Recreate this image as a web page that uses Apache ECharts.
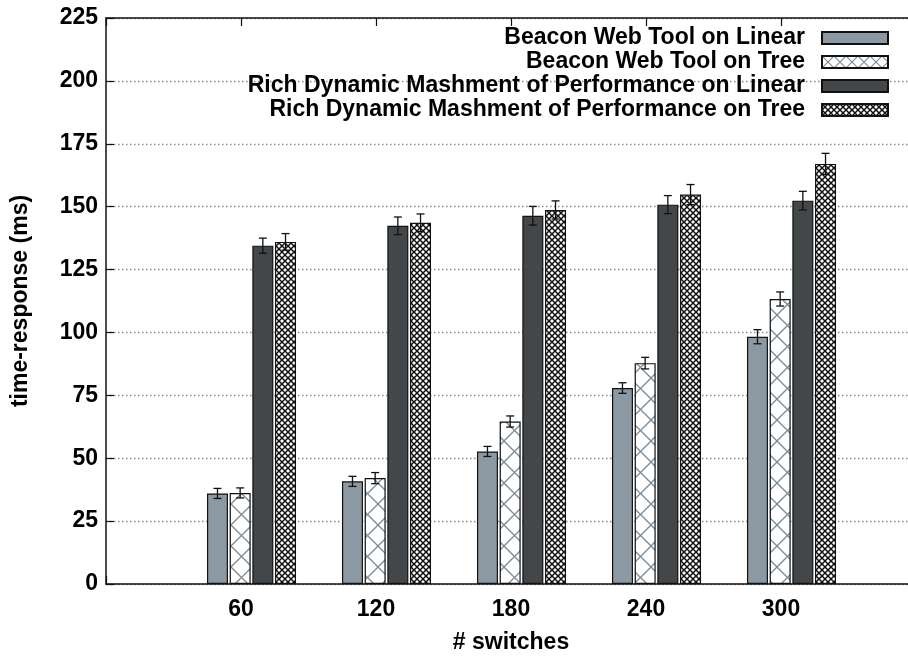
<!DOCTYPE html>
<html>
<head>
<meta charset="utf-8">
<script src="https://cdn.jsdelivr.net/npm/echarts@6/dist/echarts.min.js"></script>
<style>
  html, body { margin: 0; padding: 0; background: #fff; }
  #chart { width: 908px; height: 659px; }
</style>
</head>
<body>
<div id="chart"></div>
<script>
// Response time per number of switches, mean with error range (ms)
const switchCounts = ['60', '120', '180', '240', '300'];
const seriesNames = [
  'Beacon Web Tool on Linear',
  'Beacon Web Tool on Tree',
  'Rich Dynamic Mashment of Performance on Linear',
  'Rich Dynamic Mashment of Performance on Tree'
];
const beaconLinear    = [36.0, 40.8, 52.7, 77.9, 98.3];
const beaconLinearErr = [2.0, 2.0, 2.0, 2.1, 2.8];
const beaconTree      = [36.2, 42.1, 64.6, 87.8, 113.3];
const beaconTreeErr   = [2.0, 2.2, 2.2, 2.3, 2.8];
const richLinear      = [134.5, 142.4, 146.4, 150.8, 152.4];
const richLinearErr   = [3.0, 3.5, 3.7, 3.6, 3.7];
const richTree        = [136.0, 143.6, 148.7, 154.8, 167.0];
const richTreeErr     = [3.3, 3.5, 3.6, 4.0, 4.2];
const yTicks = { min: 0, max: 225, step: 25 };

const FONT = 'Liberation Sans';
const BAR_W = 21;
const BAR_GAP = 0.08;

// Hatch fills: diagonal cross lines on white
function crossHatch(period, color, width) {
  const c = document.createElement('canvas');
  c.width = period; c.height = period;
  const g = c.getContext('2d');
  g.fillStyle = '#fff';
  g.fillRect(0, 0, period, period);
  g.strokeStyle = color;
  g.lineWidth = width;
  for (const d of [-period, 0, period]) {
    g.beginPath(); g.moveTo(d, 0); g.lineTo(d + period, period); g.stroke();
    g.beginPath(); g.moveTo(d + period, 0); g.lineTo(d, period); g.stroke();
  }
  return { image: c, repeat: 'repeat' };
}
const wideHatch = crossHatch(21, '#7a8a97', 1.3);
const keyHatch = crossHatch(12, '#7a8a97', 1.1);
const fineHatch = crossHatch(6, '#111', 1.5);

const fills = ['#8c99a2', wideHatch, '#43474a', fineHatch];
const values = [beaconLinear, beaconTree, richLinear, richTree];
const errors = [beaconLinearErr, beaconTreeErr, richLinearErr, richTreeErr];

const barSeries = seriesNames.map((name, k) => ({
  name,
  type: 'bar',
  xAxisIndex: 2,
  yAxisIndex: 1,
  barWidth: BAR_W,
  barGap: (BAR_GAP * 100) + '%',
  itemStyle: { color: fills[k], borderColor: '#111', borderWidth: 1.2 },
  data: values[k],
  z: 2
}));

// Error bars drawn next to each bar through the category/value scales
const errData = [];
values.forEach((arr, k) => arr.forEach((v, i) => errData.push([i, k, v, errors[k][i]])));

const errSeries = {
  type: 'custom',
  xAxisIndex: 2,
  yAxisIndex: 1,
  encode: { x: 0, y: 2 },
  z: 5,
  silent: true,
  data: errData,
  renderItem(params, api) {
    const i = api.value(0), k = api.value(1), v = api.value(2), e = api.value(3);
    const pitch = BAR_W * (1 + BAR_GAP);
    const hi = api.coord([i, v + e]);
    const lo = api.coord([i, v - e]);
    const x = hi[0] + (k - 1.5) * pitch;
    const cap = 4;
    const st = { stroke: '#111', lineWidth: 1.3 };
    return {
      type: 'group',
      children: [
        { type: 'line', shape: { x1: x, y1: hi[1], x2: x, y2: lo[1] }, style: st },
        { type: 'line', shape: { x1: x - cap, y1: hi[1], x2: x + cap, y2: hi[1] }, style: st },
        { type: 'line', shape: { x1: x - cap, y1: lo[1], x2: x + cap, y2: lo[1] }, style: st }
      ]
    };
  }
};

const axisLine = { show: true, onZero: false, lineStyle: { color: '#111', width: 1.5 } };
const boldText = { fontFamily: FONT, fontWeight: 'bold', fontSize: 23, color: '#000' };
const tickStyle = { show: true, inside: true, length: 8, lineStyle: { color: '#111', width: 1.2 } };

const chart = echarts.init(document.getElementById('chart'), null, { renderer: 'canvas' });
chart.setOption({
  animation: false,
  backgroundColor: '#fff',
  grid: [
    { left: 106, top: 18, width: 810, height: 566, containLabel: false, outerBoundsMode: 'none' },
    { left: 184, top: 18, width: 675, height: 566, containLabel: false, outerBoundsMode: 'none' }
  ],
  xAxis: [
    {
      type: 'value', gridIndex: 0, min: 0, max: 360, interval: 60,
      axisLine,
      axisTick: tickStyle,
      axisLabel: Object.assign({ margin: 14, formatter: v => (v === 0 || v === 360) ? '' : String(v) }, boldText),
      splitLine: { show: false },
      name: '# switches', nameLocation: 'middle', nameGap: 47,
      nameTextStyle: boldText
    },
    {
      type: 'value', gridIndex: 0, position: 'top', min: 0, max: 360, interval: 60,
      axisLine,
      axisTick: tickStyle,
      axisLabel: { show: false },
      splitLine: { show: false }
    },
    {
      type: 'category', gridIndex: 1, data: switchCounts, show: false
    }
  ],
  yAxis: [
    {
      type: 'value', gridIndex: 0, min: yTicks.min, max: yTicks.max, interval: yTicks.step,
      axisLine,
      axisTick: tickStyle,
      axisLabel: Object.assign({ margin: 8 }, boldText),
      splitLine: { show: true, lineStyle: { color: '#8a8a8a', width: 1.3, type: [1.5, 2.5] } },
      name: 'time-response (ms)', nameLocation: 'middle', nameGap: 74, nameRotate: 90,
      nameTextStyle: boldText
    },
    {
      type: 'value', gridIndex: 1, min: yTicks.min, max: yTicks.max, show: false
    }
  ],
  legend: {
    orient: 'vertical',
    right: 14,
    top: 21,
    align: 'right',
    itemWidth: 66,
    itemHeight: 12,
    itemGap: 0,
    selectedMode: false,
    icon: 'rect',
    textStyle: Object.assign({ lineHeight: 24, padding: [0, 12, 0, 0] }, boldText),
    data: seriesNames.map((n, k) => k === 1 ? { name: n, itemStyle: { color: keyHatch } } : { name: n })
  },
  series: barSeries.concat([errSeries])
});
</script>
</body>
</html>
